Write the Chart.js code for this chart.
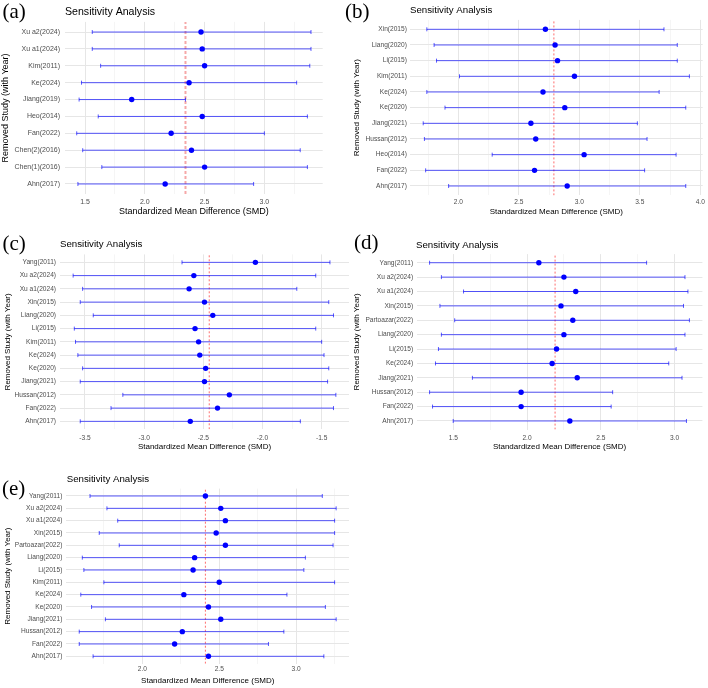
<!DOCTYPE html>
<html>
<head>
<meta charset="utf-8">
<script src="https://cdn.jsdelivr.net/npm/chart.js@4.4.1/dist/chart.umd.min.js"></script>
<style>
  html, body { margin: 0; padding: 0; background: #fff; }
  #fig { position: relative; width: 708px; height: 688px; overflow: hidden; background: #fff; }
  #fig canvas { position: absolute; }
</style>
</head>
<body>
<div id="fig"></div>
<script>
// data, bottom row first (ggplot puts the first level at the bottom)
// (a)
const studiesA = ['Ahn(2017)', 'Chen(1)(2016)', 'Chen(2)(2016)', 'Fan(2022)', 'Heo(2014)', 'Jiang(2019)', 'Ke(2024)', 'Kim(2011)', 'Xu a1(2024)', 'Xu a2(2024)'];
const smdA   = [2.17, 2.50, 2.39, 2.22, 2.48, 1.89, 2.37, 2.50, 2.48, 2.47];
const lowerA = [1.44, 1.64, 1.48, 1.43, 1.61, 1.45, 1.47, 1.63, 1.56, 1.56];
const upperA = [2.91, 3.36, 3.30, 3.00, 3.36, 2.34, 3.27, 3.38, 3.39, 3.39];
const pooledA = 2.34;

// (b)
const studiesB = ['Ahn(2017)', 'Fan(2022)', 'Heo(2014)', 'Hussan(2012)', 'Jiang(2021)', 'Ke(2020)', 'Ke(2024)', 'Kim(2011)', 'Li(2015)', 'Liang(2020)', 'Xin(2015)'];
const smdB   = [2.90, 2.63, 3.04, 2.64, 2.60, 2.88, 2.70, 2.96, 2.82, 2.80, 2.72];
const lowerB = [1.92, 1.73, 2.28, 1.72, 1.71, 1.89, 1.74, 2.01, 1.82, 1.80, 1.74];
const upperB = [3.88, 3.54, 3.80, 3.56, 3.48, 3.88, 3.66, 3.91, 3.81, 3.81, 3.70];
const pooledB = 2.79;

// (c)
const studiesC = ['Ahn(2017)', 'Fan(2022)', 'Hussan(2012)', 'Jiang(2021)', 'Ke(2020)', 'Ke(2024)', 'Kim(2011)', 'Li(2015)', 'Liang(2020)', 'Xin(2015)', 'Xu a1(2024)', 'Xu a2(2024)', 'Yang(2011)'];
const smdC   = [-2.61, -2.38, -2.28, -2.49, -2.48, -2.53, -2.54, -2.57, -2.42, -2.49, -2.62, -2.58, -2.06];
const lowerC = [-3.54, -3.28, -3.18, -3.54, -3.52, -3.56, -3.58, -3.59, -3.43, -3.54, -3.52, -3.60, -2.68];
const upperC = [-1.68, -1.40, -1.38, -1.45, -1.44, -1.48, -1.50, -1.55, -1.40, -1.44, -1.71, -1.55, -1.43];
const pooledC = -2.45;

// (d)
const studiesD = ['Ahn(2017)', 'Fan(2022)', 'Hussan(2012)', 'Jiang(2021)', 'Ke(2024)', 'Li(2015)', 'Liang(2020)', 'Partoazar(2022)', 'Xin(2015)', 'Xu a1(2024)', 'Xu a2(2024)', 'Yang(2011)'];
const smdD   = [2.29, 1.96, 1.96, 2.34, 2.17, 2.20, 2.25, 2.31, 2.23, 2.33, 2.25, 2.08];
const lowerD = [1.50, 1.36, 1.34, 1.63, 1.38, 1.40, 1.42, 1.51, 1.41, 1.57, 1.42, 1.34];
const upperD = [3.08, 2.57, 2.58, 3.05, 2.96, 3.01, 3.07, 3.10, 3.06, 3.09, 3.07, 2.81];
const pooledD = 2.19;

// (e)
const studiesE = ['Ahn(2017)', 'Fan(2022)', 'Hussan(2012)', 'Jiang(2021)', 'Ke(2020)', 'Ke(2024)', 'Kim(2011)', 'Li(2015)', 'Liang(2020)', 'Partoazar(2022)', 'Xin(2015)', 'Xu a1(2024)', 'Xu a2(2024)', 'Yang(2011)'];
const smdE   = [2.43, 2.21, 2.26, 2.51, 2.43, 2.27, 2.50, 2.33, 2.34, 2.54, 2.48, 2.54, 2.51, 2.41];
const lowerE = [1.68, 1.59, 1.59, 1.76, 1.67, 1.60, 1.75, 1.62, 1.61, 1.85, 1.72, 1.84, 1.77, 1.66];
const upperE = [3.18, 2.82, 2.92, 3.26, 3.19, 2.94, 3.25, 3.05, 3.06, 3.24, 3.25, 3.25, 3.26, 3.17];
const pooledE = 2.41;

const SANS = '"Liberation Sans", Arial, Helvetica, sans-serif';
const SERIF = '"Liberation Serif", "Times New Roman", serif';

// layout of each panel in page pixels
const thinRed = { color: 'rgba(255,60,60,0.75)', width: 1, dash: [2, 2] };
const panels = [
  { label: '(a)', studies: studiesA, smd: smdA, lower: lowerA, upper: upperA, pooled: pooledA,
    box: { x: 0, y: 0, w: 354, h: 228 }, plot: { l: 65, r: 322.7, t: 21.9, b: 194.1 },
    title: { x: 65, y: 11.7, size: 10.6 }, tag: { x: 2.5, y: 12.5, size: 21 },
    tickSize: 7, axisSize: 9, yTitleX: 6, xTitleY: 212, tickPad: 4, ylabPad: 5,
    vline: { color: 'rgba(240,110,110,0.6)', width: 2, dash: [3, 2] } },
  { label: '(b)', studies: studiesB, smd: smdB, lower: lowerB, upper: upperB, pooled: pooledB,
    box: { x: 344, y: 0, w: 364, h: 228 }, plot: { l: 409.9, r: 702.7, t: 19.9, b: 195.4 },
    title: { x: 410, y: 10, size: 9.7 }, tag: { x: 345, y: 12, size: 21 },
    tickSize: 6.6, axisSize: 8, yTitleX: 357, xTitleY: 212, tickPad: 3, ylabPad: 3,
    vline: thinRed },
  { label: '(c)', studies: studiesC, smd: smdC, lower: lowerC, upper: upperC, pooled: pooledC,
    box: { x: 0, y: 228, w: 354, h: 227 }, plot: { l: 60, r: 352.4, t: 254.4, b: 429.3 },
    title: { x: 60, y: 244.7, size: 9.7 }, tag: { x: 2.5, y: 244, size: 21 },
    tickSize: 6.6, axisSize: 8, yTitleX: 7.5, xTitleY: 447, tickPad: 5, ylabPad: 4,
    vline: thinRed },
  { label: '(d)', studies: studiesD, smd: smdD, lower: lowerD, upper: upperD, pooled: pooledD,
    box: { x: 344, y: 228, w: 364, h: 227 }, plot: { l: 416.6, r: 702.4, t: 254.1, b: 429.6 },
    title: { x: 416, y: 245, size: 9.7 }, tag: { x: 354, y: 243, size: 21 },
    tickSize: 6.6, axisSize: 8, yTitleX: 357, xTitleY: 447, tickPad: 5, ylabPad: 3.5,
    vline: thinRed },
  { label: '(e)', studies: studiesE, smd: smdE, lower: lowerE, upper: upperE, pooled: pooledE,
    box: { x: 0, y: 455, w: 354, h: 233 }, plot: { l: 66.4, r: 352.7, t: 488.6, b: 663.7 },
    title: { x: 66.7, y: 479, size: 9.7 }, tag: { x: 2, y: 489, size: 21 },
    tickSize: 6.6, axisSize: 8, yTitleX: 7.5, xTitleY: 681, tickPad: 2, ylabPad: 4,
    vline: thinRed }
];

const isMajor = v => Math.abs(v * 2 - Math.round(v * 2)) < 1e-9;

// title + (a)/(b)... tag, drawn relative to the panel canvas
const panelText = {
  id: 'panelText',
  afterDraw(chart, args, o) {
    const ctx = chart.ctx;
    ctx.save();
    ctx.fillStyle = '#000';
    ctx.textAlign = 'left';
    ctx.textBaseline = 'middle';
    ctx.font = o.titleSize + 'px ' + SANS;
    ctx.fillText('Sensitivity Analysis', o.titleX, o.titleY);
    ctx.font = o.tagSize + 'px ' + SERIF;
    ctx.fillText(o.tag, o.tagX, o.tagY);
    ctx.restore();
  }
};

const fig = document.getElementById('fig');

panels.forEach(p => {
  const canvas = document.createElement('canvas');
  canvas.width = p.box.w;
  canvas.height = p.box.h;
  canvas.style.left = p.box.x + 'px';
  canvas.style.top = p.box.y + 'px';
  canvas.style.width = p.box.w + 'px';
  canvas.style.height = p.box.h + 'px';
  fig.appendChild(canvas);

  const n = p.studies.length;
  // ggplot style 5% expansion of the x range
  const lo = Math.min(...p.lower, p.pooled);
  const hi = Math.max(...p.upper, p.pooled);
  const ex = (hi - lo) * 0.05;
  const bar = 'rgba(0,0,255,0.65)';

  const datasets = [];
  datasets.push({
    data: p.smd.map((v, i) => ({ x: v, y: i })),
    pointRadius: 2.7,
    pointBackgroundColor: '#0000ff',
    pointBorderWidth: 0,
    order: 0
  });
  p.lower.forEach((v, i) => {
    datasets.push({
      data: [{ x: v, y: i }, { x: p.upper[i], y: i }],
      showLine: true,
      borderColor: bar,
      borderWidth: 1,
      pointStyle: 'line',
      rotation: 90,
      pointRadius: 2,
      pointBorderColor: bar,
      pointBorderWidth: 1,
      order: 1
    });
  });
  datasets.push({
    data: [{ x: p.pooled, y: -0.6 }, { x: p.pooled, y: n - 0.4 }],
    showLine: true,
    borderColor: p.vline.color,
    borderWidth: p.vline.width,
    borderDash: p.vline.dash,
    pointRadius: 0,
    order: 2
  });

  const axisLH = p.axisSize * 1.2;

  new Chart(canvas, {
    type: 'scatter',
    data: { datasets },
    options: {
      responsive: false,
      animation: false,
      events: [],
      layout: {
        padding: {
          left: 0,
          top: p.plot.t - p.box.y,
          right: p.box.x + p.box.w - p.plot.r,
          bottom: 0
        }
      },
      plugins: {
        legend: { display: false },
        tooltip: { enabled: false },
        panelText: {
          tag: p.label, tagX: p.tag.x - p.box.x, tagY: p.tag.y - p.box.y, tagSize: p.tag.size,
          titleX: p.title.x - p.box.x, titleY: p.title.y - p.box.y, titleSize: p.title.size
        }
      },
      scales: {
        x: {
          type: 'linear',
          min: lo - ex,
          max: hi + ex,
          border: { display: false },
          grid: {
            drawTicks: false,
            color: c => isMajor(c.tick.value) ? '#e6e6e6' : '#f1f1f1',
            lineWidth: c => isMajor(c.tick.value) ? 1 : 0.7
          },
          ticks: {
            stepSize: 0.25,
            includeBounds: false,
            autoSkip: false,
            maxRotation: 0,
            padding: p.tickPad,
            color: '#4d4d4d',
            font: { family: SANS, size: p.tickSize },
            callback: v => isMajor(v) ? v.toFixed(1) : ''
          },
          title: {
            display: true,
            text: 'Standardized Mean Difference (SMD)',
            color: '#000',
            font: { family: SANS, size: p.axisSize },
            padding: { top: 0, bottom: p.box.y + p.box.h - p.xTitleY - axisLH / 2 }
          },
          afterFit: s => { s.height = p.box.y + p.box.h - p.plot.b; }
        },
        y: {
          type: 'linear',
          min: -0.6,
          max: n - 0.4,
          border: { display: false },
          grid: { drawTicks: false, color: '#e6e6e6', lineWidth: 1 },
          ticks: {
            stepSize: 1,
            includeBounds: false,
            autoSkip: false,
            padding: p.ylabPad,
            color: '#4d4d4d',
            font: { family: SANS, size: p.tickSize },
            callback: v => p.studies[v] !== undefined ? p.studies[v] : ''
          },
          title: {
            display: true,
            text: 'Removed Study (with Year)',
            color: '#000',
            font: { family: SANS, size: p.axisSize },
            padding: { top: p.yTitleX - p.box.x - axisLH / 2, bottom: 0 }
          },
          afterFit: s => { s.width = p.plot.l - p.box.x; }
        }
      }
    },
    plugins: [panelText]
  });
});
</script>
</body>
</html>
